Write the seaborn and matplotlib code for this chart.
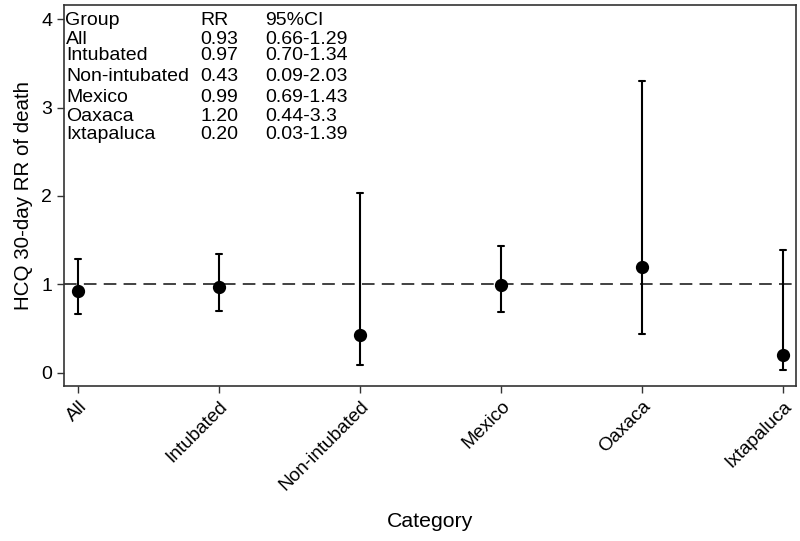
import matplotlib
matplotlib.use("Agg")
import matplotlib.pyplot as plt
import seaborn as sns
import pandas as pd
import numpy as np

categories = ["All", "Intubated", "Non-intubated", "Mexico", "Oaxaca", "Ixtapaluca"]
rr = [0.93, 0.97, 0.43, 0.99, 1.20, 0.20]
ci_low = [0.66, 0.70, 0.09, 0.69, 0.44, 0.03]
ci_high = [1.29, 1.34, 2.03, 1.43, 3.30, 1.39]
ci_text = ["0.66-1.29", "0.70-1.34", "0.09-2.03", "0.69-1.43", "0.44-3.3", "0.03-1.39"]
rr_text = ["0.93", "0.97", "0.43", "0.99", "1.20", "0.20"]
y_ticks = [0, 1, 2, 3, 4]

sns.set_theme(style="ticks")
plt.rcParams["font.family"] = ["Liberation Sans", "DejaVu Sans"]
plt.rcParams["text.color"] = "black"
plt.rcParams["xtick.labelcolor"] = "black"
plt.rcParams["ytick.labelcolor"] = "black"
plt.rcParams["axes.labelcolor"] = "black"

rows = []
for c, lo, m, hi in zip(categories, ci_low, rr, ci_high):
    for v in (lo, m, hi):
        rows.append({"Category": c, "value": v})
df = pd.DataFrame(rows)

fig = plt.figure(figsize=(8, 5.41), dpi=100)
ax = fig.add_axes([0.08, 0.2865, 0.915, 0.7043])

sns.pointplot(data=df, x="Category", y="value", order=categories,
              estimator=np.median, errorbar=lambda v: (v.min(), v.max()),
              color="black", linestyle="none", markers="o", markersize=7.5,
              capsize=0.04, err_kws={"linewidth": 1.5}, ax=ax)

ax.axhline(1, color="#333333", linestyle=(0, (7, 4)), linewidth=1.3, zorder=0)
ax.set_xlim(-0.1, 5.09)
ax.set_ylim(-0.15, 4.16)
ax.set_yticks(y_ticks)
ax.set_yticklabels([str(t) for t in y_ticks], fontsize=14)
ax.set_xticks(range(len(categories)))
ax.set_xticklabels(categories, rotation=45, ha="right", rotation_mode="anchor", fontsize=13.7)
ax.tick_params(axis="both", length=5, width=1, color="#333333")
ax.set_ylabel("HCQ 30-day RR of death", fontsize=14.8, labelpad=6)
ax.set_xlabel("Category", fontsize=15.3)
ax.xaxis.set_label_coords(430 / 800, 1 - 512 / 541, transform=fig.transFigure)
for s in ax.spines.values():
    s.set_visible(True)
    s.set_linewidth(1.2)
    s.set_color("#333333")

# table in upper-left
fs = 14
ys = [21, 40, 56, 77, 98, 117, 135]
def yax(py):
    return 1 - (py - 5) / (386 - 5)
def xax(px):
    return (px - 64) / (796 - 64)
hdr = yax(ys[0])
ax.text(xax(65), hdr, "Group", transform=ax.transAxes, fontsize=fs, va="center")
ax.text(xax(200), hdr, "RR", transform=ax.transAxes, fontsize=fs, va="center")
ax.text(xax(265), hdr, "95%CI", transform=ax.transAxes, fontsize=fs, va="center")
for i, c in enumerate(categories):
    y = yax(ys[i + 1])
    ax.text(xax(66), y, c, transform=ax.transAxes, fontsize=fs, va="center")
    ax.text(xax(200), y, rr_text[i], transform=ax.transAxes, fontsize=fs, va="center")
    ax.text(xax(265), y, ci_text[i], transform=ax.transAxes, fontsize=fs, va="center")

fig.savefig("out.png", dpi=100)
